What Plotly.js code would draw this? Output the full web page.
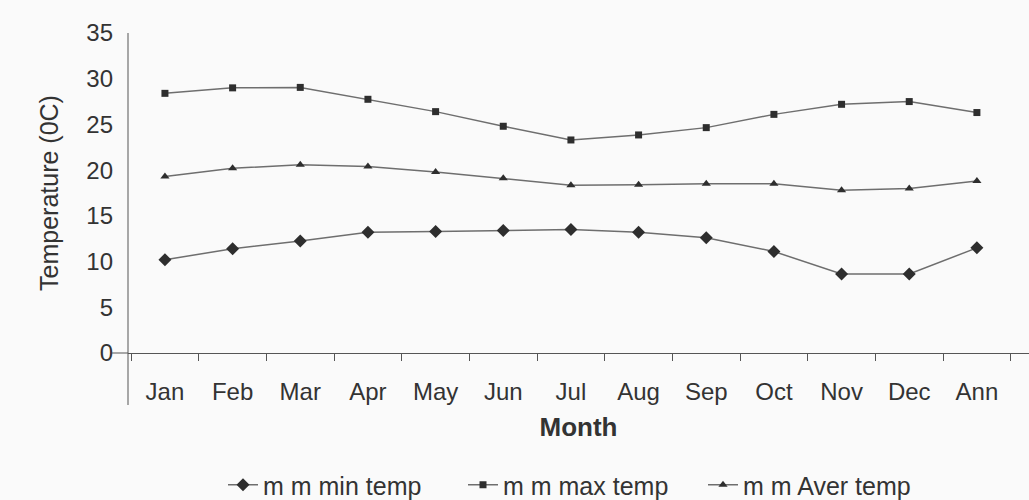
<!DOCTYPE html>
<html>
<head>
<meta charset="utf-8">
<script src="https://cdn.plot.ly/plotly-3.0.1.min.js"></script>
<style>html,body{margin:0;padding:0;background:#fafafa;}#chart{width:1029px;height:500px;}</style>
</head>
<body>
<div id="chart"></div>
<script>
var months = ["Jan","Feb","Mar","Apr","May","Jun","Jul","Aug","Sep","Oct","Nov","Dec","Ann"];
var minTemp = [10.2, 11.4, 12.25, 13.2, 13.3, 13.4, 13.5, 13.2, 12.6, 11.1, 8.65, 8.65, 11.5];
var maxTemp = [28.4, 29.0, 29.05, 27.75, 26.4, 24.8, 23.3, 23.85, 24.65, 26.1, 27.2, 27.5, 26.3];
var averTemp = [19.3, 20.2, 20.6, 20.4, 19.8, 19.1, 18.35, 18.4, 18.5, 18.5, 17.8, 18.0, 18.8];
var seriesNames = ["m m min temp", "m m max temp", "m m Aver temp"];

var lineColor = "#6e6e6e";
var markColor = "#2e2e2e";
function tr(y, name, sym, size) {
  return {x: months, y: y, name: name, type: "scatter", mode: "lines+markers",
    line: {color: lineColor, width: 1.5},
    marker: {symbol: sym, size: size, color: markColor}};
}
var data = [
  tr(minTemp, seriesNames[0], "diamond", 10),
  tr(maxTemp, seriesNames[1], "square", 7),
  tr(averTemp, seriesNames[2], "triangle-up", 8)
];
var font = {family: "Liberation Sans, Arial, sans-serif", color: "#333"};
var layout = {
  width: 1029, height: 500,
  margin: {l: 128, r: 0, t: 33, b: 147, autoexpand: false},
  paper_bgcolor: "#fafafa", plot_bgcolor: "#fafafa",
  font: font,
  showlegend: true,
  legend: {orientation: "h", x: 0.505, xanchor: "center", y: -0.4125, yanchor: "middle",
    font: {size: 25, color: "#333", family: font.family}, itemwidth: 30,
    entrywidth: 195, bgcolor: "rgba(0,0,0,0)"},
  xaxis: {type: "category", range: [-0.546, 12.77], showgrid: false, zeroline: false,
    showline: true, linecolor: "#555", linewidth: 1,
    ticks: "outside", tickson: "boundaries", ticklen: 7, tickcolor: "#555",
    ticklabelstandoff: 17,
    tickfont: {size: 24, color: "#333"},
    title: {text: "<b>Month</b>", font: {size: 26, color: "#333"}, standoff: 14}},
  yaxis: {range: [0, 35], dtick: 5, showgrid: false, zeroline: false,
    showline: false, ticks: "", ticklabelstandoff: 14,
    tickfont: {size: 24, color: "#333"},
    title: {text: "Temperature (0C)", font: {size: 25, color: "#333"}, standoff: 20}},
  shapes: [
    {type: "line", xref: "paper", yref: "paper", x0: 0, x1: 0, y0: -0.1625, y1: 1,
      line: {color: "#555", width: 1}},
    {type: "line", xref: "paper", yref: "paper", x0: -0.018, x1: 0, y0: 0, y1: 0,
      line: {color: "#555", width: 1}}
  ]
};
Plotly.newPlot("chart", data, layout, {displayModeBar: false, staticPlot: true});
</script>
</body>
</html>
